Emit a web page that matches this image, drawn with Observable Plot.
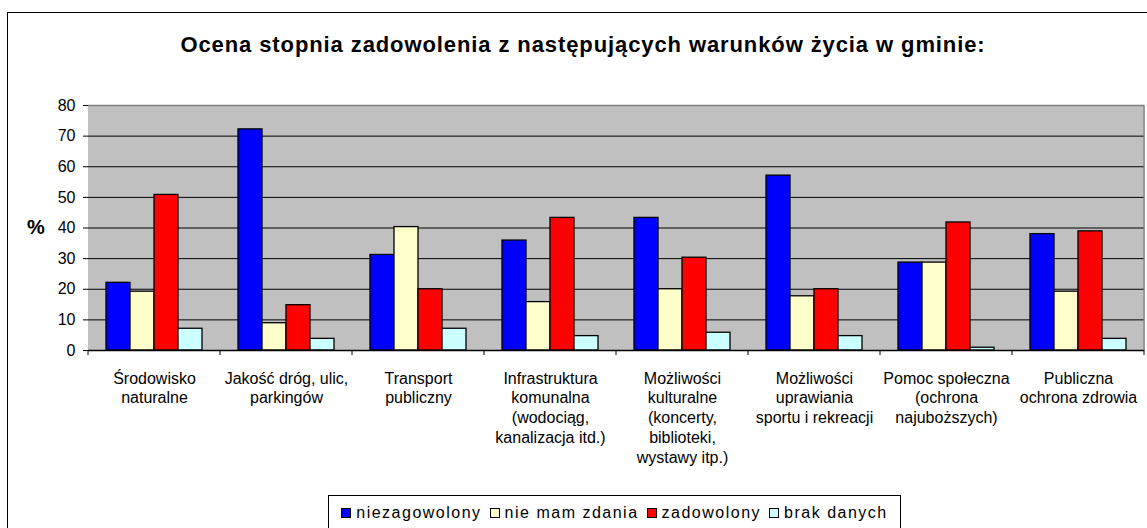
<!DOCTYPE html>
<html>
<head>
<meta charset="utf-8">
<script src="https://cdn.jsdelivr.net/npm/d3@7"></script>
<script src="https://cdn.jsdelivr.net/npm/@observablehq/plot@0.6"></script>
<style>
  body { margin: 0; background: #fff; font-family: "Liberation Sans", Arial, sans-serif; color: #000; }
  #wrap { position: relative; width: 1147px; height: 528px; overflow: hidden; background: #fff; }
  #chart { position: absolute; left: 0; top: 0; }
  #frame { position: absolute; left: 7px; top: 12px; width: 1170px; height: 600px; border: 1.5px solid #000; box-sizing: border-box; pointer-events: none; }
  #title { position: absolute; left: 7px; width: 1152px; top: 32px; text-align: center; font-weight: bold; font-size: 22px; letter-spacing: 0.9px; white-space: nowrap; }
  #ylab { position: absolute; left: 27px; top: 216px; font-weight: bold; font-size: 20px; }
  #legend { position: absolute; left: 328px; top: 495px; width: 573px; height: 50px; border: 1px solid #000; box-sizing: border-box; background: #fff;
            display: flex; justify-content: center; align-items: flex-start; padding-top: 8px; font-size: 16px; letter-spacing: 1.5px; white-space: nowrap; }
  .item { display: flex; align-items: center; margin: 0 4px; }
  .sw { width: 8px; height: 8px; border: 1px solid #000; margin-right: 5px; }
</style>
</head>
<body>
<div id="wrap">
  <div id="chart"></div>
  <div id="title"></div>
  <div id="ylab">%</div>
  <div id="legend"></div>
  <div id="frame"></div>
</div>
<script>
const titleText = "Ocena stopnia zadowolenia z następujących warunków życia w gminie:";
const categories = [
  "Środowisko\nnaturalne",
  "Jakość dróg, ulic,\nparkingów",
  "Transport\npubliczny",
  "Infrastruktura\nkomunalna\n(wodociąg,\nkanalizacja itd.)",
  "Możliwości\nkulturalne\n(koncerty,\nbiblioteki,\nwystawy itp.)",
  "Możliwości\nuprawiania\nsportu i rekreacji",
  "Pomoc społeczna\n(ochrona\nnajuboższych)",
  "Publiczna\nochrona zdrowia"
];
const series = ["niezagowolony", "nie mam zdania", "zadowolony", "brak danych"];
const niezadowolony = [22.1, 72.2, 31.2, 35.9, 43.3, 57.1, 28.7, 38.0];
const nieMamZdania  = [19.2, 8.9, 40.3, 15.8, 20.0, 17.7, 28.7, 19.2];
const zadowolony    = [50.8, 14.8, 20.0, 43.3, 30.3, 20.0, 41.8, 38.9];
const brakDanych    = [7.1, 3.8, 7.1, 4.7, 5.8, 4.7, 0.9, 3.8];
const colors = ["#0000FF", "#FFFFCC", "#FF0000", "#CCFFFF"];
const yTicks = [0, 10, 20, 30, 40, 50, 60, 70, 80];

const seriesValues = [niezadowolony, nieMamZdania, zadowolony, brakDanych];
const table = categories.flatMap((c, i) => series.map((s, j) => ({cat: c, series: s, value: seriesValues[j][i]})));

document.getElementById("title").textContent = titleText;

const plot = Plot.plot({
  width: 1147,
  height: 490,
  marginLeft: 88,
  marginRight: 3,
  marginTop: 105,
  marginBottom: 140,
  style: {background: "transparent", fontFamily: "Liberation Sans, Arial, sans-serif", fontSize: "16px", color: "#000", overflow: "visible"},
  fx: {domain: categories, padding: 0, axis: null},
  x: {domain: series, paddingInner: 0, paddingOuter: 0.68, axis: null},
  y: {domain: [0, 80], ticks: yTicks, tickSize: 5, tickPadding: 8, label: null, line: true},
  color: {domain: series, range: colors},
  marks: [
    Plot.frame({fill: "#c0c0c0", stroke: "none", insetLeft: -0.6, insetRight: -0.6, shapeRendering: "crispEdges"}),
    Plot.ruleY(yTicks.slice(1, -1), {stroke: "#000", strokeWidth: 1}),
    Plot.ruleY([80], {stroke: "#808080", strokeWidth: 1.3}),
    Plot.barY(table, {fx: "cat", x: "series", y: "value", fill: "series", stroke: "#000", strokeWidth: 1.3}),
    Plot.ruleY([0], {stroke: "#000", strokeWidth: 1.3}),
    Plot.text(categories, {fx: d => d, text: d => d, frameAnchor: "bottom", dy: 19, lineAnchor: "top", lineHeight: 1.24, fontSize: 16, fill: "#000"})
  ]
});

// category boundary ticks and right border of the plot area, derived from Plot's scales
const fx = plot.scale("fx");
const ys = plot.scale("y");
const y0 = ys.apply(0), yTop = ys.apply(80);
const starts = fx.domain.map(d => fx.apply(d));
const bounds = starts.concat([starts[starts.length - 1] + fx.bandwidth]);
const svg = d3.select(plot);
svg.append("g").selectAll("line").data(bounds).join("line")
  .attr("x1", d => d).attr("x2", d => d).attr("y1", y0).attr("y2", y0 + 5)
  .attr("stroke", "#000").attr("stroke-width", 1);
svg.append("line")
  .attr("x1", bounds[bounds.length - 1]).attr("x2", bounds[bounds.length - 1])
  .attr("y1", yTop).attr("y2", y0).attr("stroke", "#808080").attr("stroke-width", 1.3);

document.getElementById("chart").appendChild(plot);

const legend = document.getElementById("legend");
series.forEach((s, i) => {
  const item = document.createElement("div");
  item.className = "item";
  const sw = document.createElement("span");
  sw.className = "sw";
  sw.style.background = colors[i];
  const lab = document.createElement("span");
  lab.textContent = s;
  item.appendChild(sw);
  item.appendChild(lab);
  legend.appendChild(item);
});
</script>
</body>
</html>
